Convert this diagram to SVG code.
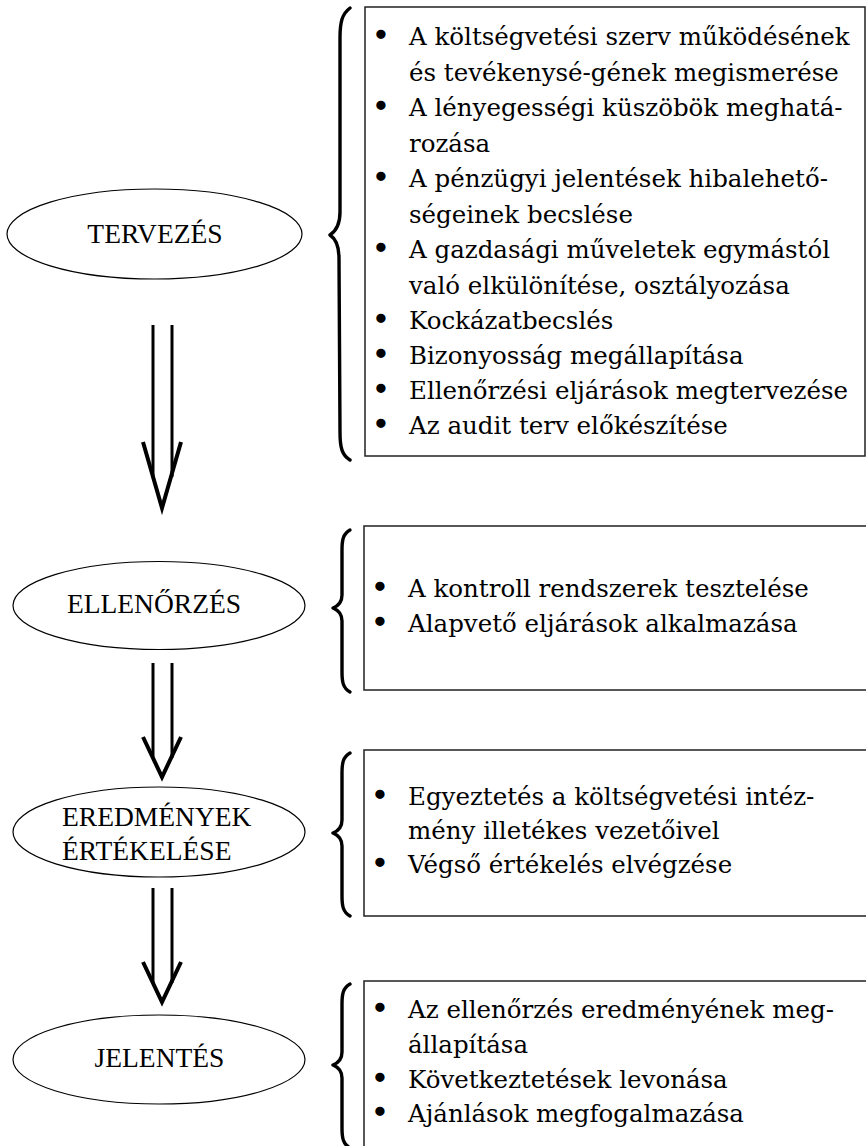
<svg xmlns="http://www.w3.org/2000/svg" width="866" height="1146" viewBox="0 0 866 1146">
<style>
.ell{fill:#fff;stroke:#000;stroke-width:1.2}
.lbl{font-family:"Liberation Serif","Times New Roman",serif;font-size:27.5px;fill:#000}
.box{fill:none;stroke:#222;stroke-width:1.5}
.brace{fill:none;stroke:#000;stroke-width:3.4;stroke-linecap:round;stroke-linejoin:round}
.txt{font-family:"DejaVu Serif","Liberation Serif",serif;font-size:24.5px;fill:#000}
.bul{font-family:"Liberation Serif","Times New Roman",serif;font-size:28px;fill:#000;stroke:#000;stroke-width:2.6;stroke-linejoin:round;text-anchor:middle}
.shaft{stroke:#000;stroke-width:3;fill:none}
.head{stroke:#000;stroke-width:4;fill:none;stroke-linejoin:miter;stroke-miterlimit:10}
</style>
<rect width="866" height="1146" fill="#fff"/>

<g id="connectors">
  <g id="arrow1">
    <line class="shaft" x1="153" y1="325" x2="153" y2="477"/>
    <line class="shaft" x1="172" y1="325" x2="172" y2="477"/>
    <polyline class="head" points="143,442 162,508 181,442"/>
  </g>
  <g id="arrow2">
    <line class="shaft" x1="153" y1="663" x2="153" y2="758"/>
    <line class="shaft" x1="172" y1="663" x2="172" y2="758"/>
    <polyline class="head" points="143,737 162,777 181,737"/>
  </g>
  <g id="arrow3">
    <line class="shaft" x1="153" y1="888" x2="153" y2="983"/>
    <line class="shaft" x1="172" y1="888" x2="172" y2="983"/>
    <polyline class="head" points="143,962 162,1002 181,962"/>
  </g>
</g>

<g id="node-tervezes">
  <ellipse class="ell" cx="154.5" cy="234" rx="147.5" ry="45"/>
  <text class="lbl" x="155" y="243" text-anchor="middle">TERVEZÉS</text>
</g>
<g id="node-ellenorzes">
  <ellipse class="ell" cx="159" cy="605.5" rx="146" ry="44"/>
  <text class="lbl" x="154" y="613" text-anchor="middle">ELLENŐRZÉS</text>
</g>
<g id="node-eredmenyek">
  <ellipse class="ell" cx="159" cy="832" rx="146" ry="45"/>
  <text class="lbl" x="62" y="826">EREDMÉNYEK</text>
  <text class="lbl" x="62" y="860">ÉRTÉKELÉSE</text>
</g>
<g id="node-jelentes">
  <ellipse class="ell" cx="159" cy="1059.5" rx="146" ry="44.5"/>
  <text class="lbl" x="159.5" y="1067" text-anchor="middle">JELENTÉS</text>
</g>

<g id="list-tervezes">
  <path class="brace" d="M350,8 C342,14 340,22 340,38 L340,212 C340,225 336,231 330,235 C336,239 339,246 339,258 L340,432 C340,448 342,455 350,460"/>
  <path class="box" d="M365,7 H865 V456 H365 Z"/>
  <text class="bul" x="381" y="44">•</text><text class="txt" x="409" y="45">A költségvetési szerv működésének</text>
  <text class="txt" x="409" y="80.5">és tevékenysé-gének megismerése</text>
  <text class="bul" x="381" y="115">•</text><text class="txt" x="409" y="116">A lényegességi küszöbök meghatá-</text>
  <text class="txt" x="409" y="151.5">rozása</text>
  <text class="bul" x="381" y="186">•</text><text class="txt" x="409" y="187">A pénzügyi jelentések hibalehető-</text>
  <text class="txt" x="409" y="222.5">ségeinek becslése</text>
  <text class="bul" x="381" y="257">•</text><text class="txt" x="409" y="258">A gazdasági műveletek egymástól</text>
  <text class="txt" x="409" y="293.5">való elkülönítése, osztályozása</text>
  <text class="bul" x="381" y="328">•</text><text class="txt" x="409" y="329">Kockázatbecslés</text>
  <text class="bul" x="381" y="363">•</text><text class="txt" x="409" y="364">Bizonyosság megállapítása</text>
  <text class="bul" x="381" y="398">•</text><text class="txt" x="409" y="399">Ellenőrzési eljárások megtervezése</text>
  <text class="bul" x="381" y="433">•</text><text class="txt" x="409" y="434">Az audit terv előkészítése</text>
</g>

<g id="list-ellenorzes">
  <path class="brace" d="M350,530 C343,534 342,540 342,550 L342,595 C342,602 338,606 333,608 C338,610 342,614 342,621 L342,672 C342,682 343,688 350,692"/>
  <path class="box" d="M870,526 H364 V690 H870"/>
  <text class="bul" x="380" y="596">•</text><text class="txt" x="408" y="597">A kontroll rendszerek tesztelése</text>
  <text class="bul" x="380" y="631">•</text><text class="txt" x="408" y="632">Alapvető eljárások alkalmazása</text>
</g>

<g id="list-eredmenyek">
  <path class="brace" d="M350,753 C343,757 342,763 342,773 L342,820 C342,827 338,831 333,833 C338,835 342,839 342,846 L342,896 C342,906 343,912 350,916"/>
  <path class="box" d="M870,750 H364 V916 H870"/>
  <text class="bul" x="380" y="804">•</text><text class="txt" x="408" y="805">Egyeztetés a költségvetési intéz-</text>
  <text class="txt" x="408" y="839">mény illetékes vezetőivel</text>
  <text class="bul" x="380" y="872">•</text><text class="txt" x="408" y="873">Végső értékelés elvégzése</text>
</g>

<g id="list-jelentes">
  <path class="brace" d="M350,984 C343,988 342,994 342,1004 L342,1052 C342,1059 338,1063 333,1065 C338,1067 342,1071 342,1078 L342,1128 C342,1138 343,1144 350,1148"/>
  <path class="box" d="M870,981 H364 V1150"/>
  <text class="bul" x="380" y="1017">•</text><text class="txt" x="408" y="1018">Az ellenőrzés eredményének meg-</text>
  <text class="txt" x="408" y="1053">állapítása</text>
  <text class="bul" x="380" y="1087">•</text><text class="txt" x="408" y="1088">Következtetések levonása</text>
  <text class="bul" x="380" y="1121">•</text><text class="txt" x="408" y="1122">Ajánlások megfogalmazása</text>
</g>
</svg>
